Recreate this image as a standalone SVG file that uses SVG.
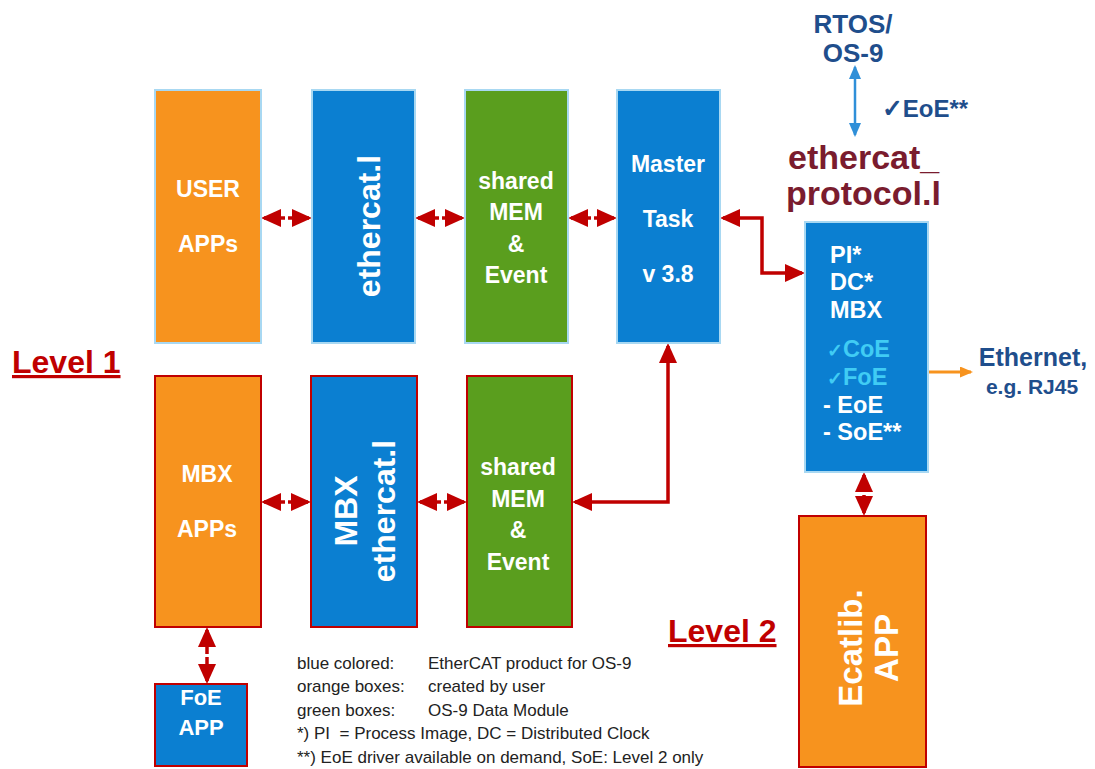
<svg xmlns="http://www.w3.org/2000/svg" width="1095" height="769" viewBox="0 0 1095 769">
<defs>
<style>
.t{font-family:"Liberation Sans",Arial,sans-serif;font-weight:bold;fill:#fff;text-anchor:middle}
.org{fill:#F7931E}
.blu{fill:#0B7FD1}
.grn{fill:#5A9E1E}
.lb{stroke:#A8D8F2;stroke-width:2}
.rb{stroke:#C00000;stroke-width:2}
.con{stroke:#C00000;stroke-width:3.5;fill:none}
.lg{font-family:"Liberation Sans",Arial,sans-serif;font-size:17px;fill:#222}
.lvl{font-family:"Liberation Sans",Arial,sans-serif;font-weight:bold;font-size:32px;fill:#C00000;text-decoration:underline}
.dk{font-family:"Liberation Sans",Arial,sans-serif;font-weight:bold;fill:#1F4E8C;text-anchor:middle}
.pi{font-family:"Liberation Sans",Arial,sans-serif;font-weight:bold;font-size:23.5px;fill:#fff}
.cy{fill:#40CCF4}
.mr{font-family:"Liberation Sans",Arial,sans-serif;font-weight:bold;font-size:34px;fill:#7A1C2E}
</style>
<marker id="ar" viewBox="0 0 20 18" refX="17" refY="9" markerWidth="20" markerHeight="18" orient="auto-start-reverse" markerUnits="userSpaceOnUse">
<path d="M0,0 L20,9 L0,18 z" fill="#C00000"/>
</marker>
<marker id="ab" viewBox="0 0 14 12" refX="12" refY="6" markerWidth="14" markerHeight="12" orient="auto-start-reverse" markerUnits="userSpaceOnUse">
<path d="M0,0 L14,6 L0,12 z" fill="#2F8FD8"/>
</marker>
<marker id="ao" viewBox="0 0 13 11" refX="11" refY="5.5" markerWidth="13" markerHeight="11" orient="auto" markerUnits="userSpaceOnUse">
<path d="M0,0 L13,5.5 L0,11 z" fill="#F7931E"/>
</marker>
</defs>
<rect width="1095" height="769" fill="#fff"/>

<g id="connectors">
<line class="con" x1="264" y1="218" x2="285" y2="218" marker-start="url(#ar)"/>
<line class="con" x1="288" y1="218" x2="309" y2="218" marker-end="url(#ar)"/>
<line class="con" x1="418" y1="218" x2="439" y2="218" marker-start="url(#ar)"/>
<line class="con" x1="442" y1="218" x2="462" y2="218" marker-end="url(#ar)"/>
<line class="con" x1="571" y1="218" x2="591" y2="218" marker-start="url(#ar)"/>
<line class="con" x1="594" y1="218" x2="614" y2="218" marker-end="url(#ar)"/>
<polyline class="con" points="723,218 762,218 762,273 802,273" marker-start="url(#ar)" marker-end="url(#ar)"/>
<polyline class="con" points="575,502 668,502 668,346" marker-start="url(#ar)" marker-end="url(#ar)"/>
<line class="con" x1="264" y1="502" x2="285" y2="502" marker-start="url(#ar)"/>
<line class="con" x1="288" y1="502" x2="308" y2="502" marker-end="url(#ar)"/>
<line class="con" x1="420" y1="502" x2="441" y2="502" marker-start="url(#ar)"/>
<line class="con" x1="444" y1="502" x2="464" y2="502" marker-end="url(#ar)"/>
<line class="con" x1="207" y1="630" x2="207" y2="654" marker-start="url(#ar)"/>
<line class="con" x1="207" y1="657" x2="207" y2="681" marker-end="url(#ar)"/>
<line class="con" x1="864" y1="475" x2="864" y2="492" marker-start="url(#ar)"/>
<line class="con" x1="864" y1="495" x2="864" y2="513" marker-end="url(#ar)"/>
<line x1="855" y1="67" x2="855" y2="135" stroke="#2F8FD8" stroke-width="2.5" marker-start="url(#ab)" marker-end="url(#ab)"/>
<line x1="929" y1="372" x2="971" y2="372" stroke="#F7931E" stroke-width="3" marker-end="url(#ao)"/>
</g>

<g id="user-apps">
<rect class="org lb" x="155" y="90" width="106" height="253"/>
<text class="t" font-size="23" x="208" y="197">USER</text>
<text class="t" font-size="23" x="208" y="252">APPs</text>
</g>
<g id="ethercat-l">
<rect class="blu lb" x="312" y="90" width="103" height="253"/>
<text class="t" font-size="32" transform="translate(380,226) rotate(-90)">ethercat.l</text>
</g>
<g id="shared-mem-top">
<rect class="grn lb" x="465" y="90" width="103" height="253"/>
<text class="t" font-size="23" x="516" y="189">shared</text>
<text class="t" font-size="23" x="516" y="220">MEM</text>
<text class="t" font-size="23" x="516" y="252">&amp;</text>
<text class="t" font-size="23" x="516" y="283">Event</text>
</g>
<g id="master-task">
<rect class="blu lb" x="617" y="90" width="103" height="253"/>
<text class="t" font-size="23" x="668" y="172">Master</text>
<text class="t" font-size="23" x="668" y="227">Task</text>
<text class="t" font-size="23" x="668" y="282">v 3.8</text>
</g>
<g id="protocol-box">
<rect class="blu lb" x="805" y="222" width="123" height="250"/>
<text class="pi" x="830" y="263">PI*</text>
<text class="pi" x="830" y="290">DC*</text>
<text class="pi" x="830" y="318">MBX</text>
<text class="pi cy" x="827" y="357"><tspan font-size="19">✓</tspan>CoE</text>
<text class="pi cy" x="827" y="385"><tspan font-size="19">✓</tspan>FoE</text>
<text class="pi" x="823" y="413">- EoE</text>
<text class="pi" x="823" y="440">- SoE**</text>
</g>
<g id="mbx-apps">
<rect class="org rb" x="155" y="376" width="106" height="251"/>
<text class="t" font-size="23" x="207" y="482">MBX</text>
<text class="t" font-size="23" x="207" y="537">APPs</text>
</g>
<g id="mbx-ethercat">
<rect class="blu rb" x="311" y="376" width="106" height="251"/>
<text class="t" font-size="32" transform="translate(357,511) rotate(-90)">MBX</text>
<text class="t" font-size="32" transform="translate(395,511) rotate(-90)">ethercat.l</text>
</g>
<g id="shared-mem-bottom">
<rect class="grn rb" x="467" y="376" width="105" height="251"/>
<text class="t" font-size="23" x="518" y="475">shared</text>
<text class="t" font-size="23" x="518" y="507">MEM</text>
<text class="t" font-size="23" x="518" y="538">&amp;</text>
<text class="t" font-size="23" x="518" y="570">Event</text>
</g>
<g id="foe-app">
<rect class="blu rb" x="155" y="684" width="92" height="82"/>
<text class="t" font-size="22" x="201" y="705">FoE</text>
<text class="t" font-size="22" x="201" y="735">APP</text>
</g>
<g id="ecatlib-app">
<rect class="org rb" x="799" y="516" width="127" height="251"/>
<text class="t" font-size="33" transform="translate(862,648) rotate(-90)">Ecatlib.</text>
<text class="t" font-size="33" transform="translate(898,648) rotate(-90)">APP</text>
</g>

<g id="rtos">
<text class="dk" font-size="26" x="853" y="33">RTOS/</text>
<text class="dk" font-size="26" x="853" y="62">OS-9</text>
</g>
<text class="dk" font-size="24" x="925" y="117"><tspan font-size="25">✓</tspan>EoE**</text>
<g id="ethercat-protocol">
<text class="mr" x="788" y="169">ethercat_</text>
<text class="mr" x="786" y="205">protocol.l</text>
</g>
<g id="ethernet">
<text class="dk" font-size="25" x="1033" y="366">Ethernet,</text>
<text class="dk" font-size="21" x="1032" y="394">e.g. RJ45</text>
</g>
<text class="lvl" x="12" y="373">Level 1</text>
<text class="lvl" x="668" y="642">Level 2</text>

<g id="legend" class="lg">
<text x="297" y="669">blue colored:</text><text x="428" y="669">EtherCAT product for OS-9</text>
<text x="297" y="692">orange boxes:</text><text x="428" y="692">created by user</text>
<text x="297" y="716">green boxes:</text><text x="428" y="716">OS-9 Data Module</text>
<text x="297" y="739" xml:space="preserve">*) PI  = Process Image, DC = Distributed Clock</text>
<text x="297" y="763">**) EoE driver available on demand, SoE: Level 2 only</text>
</g>
</svg>
